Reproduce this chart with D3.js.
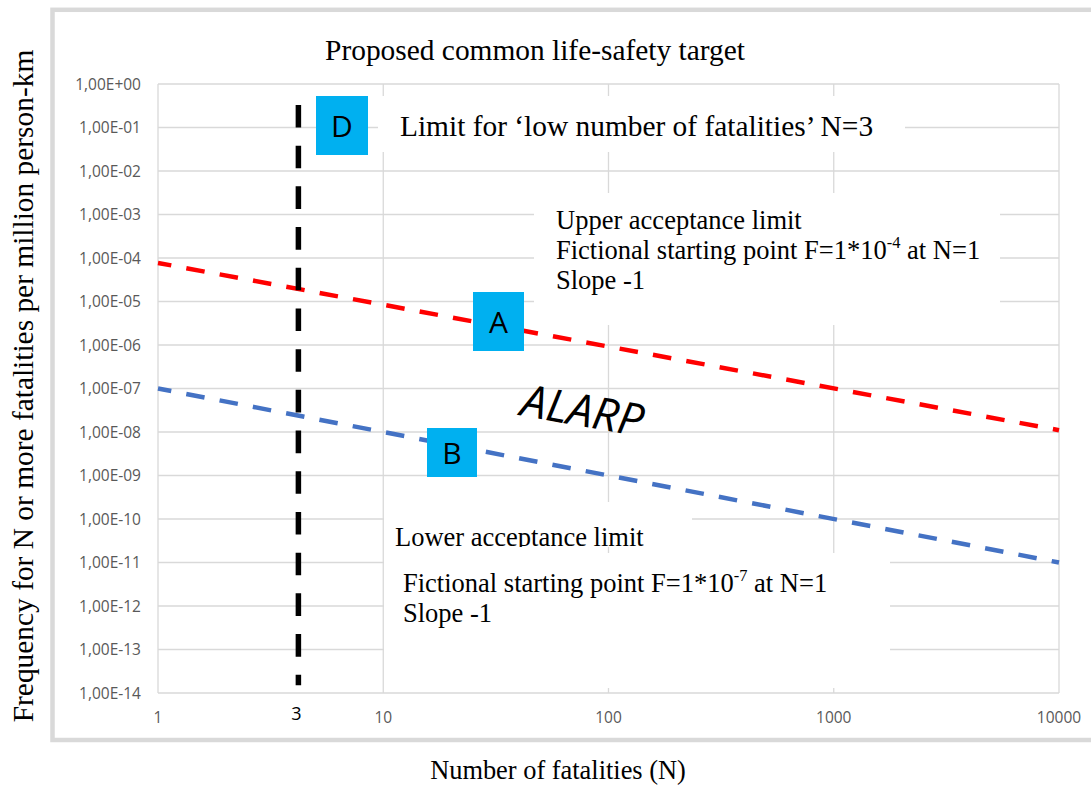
<!DOCTYPE html>
<html><head><meta charset="utf-8">
<script src="https://cdn.jsdelivr.net/npm/d3@7"></script>
<style>body{margin:0;background:#fff;} svg{display:block;}</style>
</head><body>
<svg id="chart" width="1091" height="785"></svg>
<script>
// ---------- data ----------
const xTicks = [1, 10, 100, 1000, 10000];
const xTickLabels = ["1", "10", "100", "1000", "10000"];
const yTicks = [1, 1e-1, 1e-2, 1e-3, 1e-4, 1e-5, 1e-6, 1e-7, 1e-8, 1e-9, 1e-10, 1e-11, 1e-12, 1e-13, 1e-14];
const yTickLabels = ["1,00E+00", "1,00E-01", "1,00E-02", "1,00E-03", "1,00E-04", "1,00E-05", "1,00E-06",
  "1,00E-07", "1,00E-08", "1,00E-09", "1,00E-10", "1,00E-11", "1,00E-12", "1,00E-13", "1,00E-14"];
const upperLimitN = [1, 10000];
const upperLimitF = [7.7e-5, 1.1e-8];
const lowerLimitN = [1, 10000];
const lowerLimitF = [1e-7, 1e-11];
const markerN = [4.2, 4.2];
const markerF = [0.33, 1.5e-14];
const markerLabel = "3";

const titleText = "Proposed common life-safety target";
const yTitle = "Frequency for N or more fatalities per million person-km";
const xTitle = "Number of fatalities (N)";

// ---------- layout ----------
const svg = d3.select("#chart");
const x = d3.scaleLog().domain([1, 10000]).range([158, 1059]);
const y = d3.scaleLog().domain([1e-14, 1]).range([693, 84]);
const serif = "'Liberation Serif','Times New Roman',serif";
const sans = "'Open Sans','Liberation Sans',sans-serif";
const gridColor = "#d9d9d9";

// outer frame
svg.append("rect").attr("x", 52.5).attr("y", 9.8).attr("width", 1100).attr("height", 730.2)
  .attr("fill", "none").attr("stroke", "#d9d9d9").attr("stroke-width", 4.5);

// grid
const g = svg.append("g");
g.selectAll("line.h").data(yTicks).join("line")
  .attr("x1", x(1)).attr("x2", x(10000))
  .attr("y1", d => y(d)).attr("y2", d => y(d))
  .attr("stroke", gridColor).attr("stroke-width", 1.3);
g.selectAll("line.v").data(xTicks).join("line")
  .attr("y1", y(1)).attr("y2", y(1e-14))
  .attr("x1", d => x(d)).attr("x2", d => x(d))
  .attr("stroke", gridColor).attr("stroke-width", 1.3);

// tick labels
svg.append("g").selectAll("text").data(yTicks).join("text")
  .attr("x", 141).attr("y", d => y(d) + 5.5)
  .attr("text-anchor", "end").attr("font-family", sans).attr("font-size", 15.5)
  .attr("fill", "#595959").text((d, i) => yTickLabels[i]);
svg.append("g").selectAll("text").data(xTicks).join("text")
  .attr("x", d => x(d)).attr("y", 723)
  .attr("text-anchor", "middle").attr("font-family", sans).attr("font-size", 15.5)
  .attr("fill", "#595959").text((d, i) => xTickLabels[i]);

// lines
const line = d3.line().x(d => x(d[0])).y(d => y(d[1]));
svg.append("path").datum(upperLimitN.map((n, i) => [n, upperLimitF[i]]))
  .attr("d", line).attr("fill", "none").attr("stroke", "#ff0000").attr("stroke-width", 4.5)
  .attr("stroke-dasharray", "18.6 15.3").attr("stroke-dashoffset", 5.1);
svg.append("path").datum(lowerLimitN.map((n, i) => [n, lowerLimitF[i]]))
  .attr("d", line).attr("fill", "none").attr("stroke", "#4472c4").attr("stroke-width", 4.5)
  .attr("stroke-dasharray", "18.6 15.3").attr("stroke-dashoffset", 5.1);
svg.append("path").datum(markerN.map((n, i) => [n, markerF[i]]))
  .attr("d", line).attr("fill", "none").attr("stroke", "#000").attr("stroke-width", 5.5)
  .attr("stroke-dasharray", "22.6 18.1");
svg.append("text").attr("x", x(markerN[0]) - 2).attr("y", 720)
  .attr("text-anchor", "middle").attr("font-family", sans).attr("font-size", 18)
  .attr("fill", "#000").text(markerLabel);

// white text boxes
const boxes = [[378, 96, 527, 56], [534, 193, 466, 132], [384, 502, 308, 45], [384, 553, 506, 135]];
svg.append("g").selectAll("rect").data(boxes).join("rect")
  .attr("x", d => d[0]).attr("y", d => d[1]).attr("width", d => d[2]).attr("height", d => d[3])
  .attr("fill", "#fff");

// titles
svg.append("text").attr("x", 535).attr("y", 60).attr("text-anchor", "middle")
  .attr("font-family", serif).attr("font-size", 29.4).attr("fill", "#000").text(titleText);
svg.append("text").attr("transform", "translate(33,386) rotate(-90)").attr("text-anchor", "middle")
  .attr("font-family", serif).attr("font-size", 29.4).attr("fill", "#000").text(yTitle);
svg.append("text").attr("x", 558).attr("y", 779).attr("text-anchor", "middle")
  .attr("font-family", serif).attr("font-size", 26.4).attr("fill", "#000").text(xTitle);

// annotation texts
svg.append("text").attr("x", 400).attr("y", 136).attr("font-family", serif).attr("font-size", 29.4)
  .attr("fill", "#000").text("Limit for \u2018low number of fatalities\u2019 N=3");

function block(x0, lines, exp, fs) {
  const t = svg.append("g");
  lines.forEach((ln, i) => {
    const tx = t.append("text").attr("x", x0).attr("y", ln.y).attr("font-family", serif)
      .attr("font-size", fs).attr("fill", "#000");
    if (ln.sup) {
      tx.append("tspan").text(ln.pre);
      tx.append("tspan").attr("font-size", fs * 0.62).attr("dy", -11).text(exp);
      tx.append("tspan").attr("dy", 11).text(ln.post);
    } else tx.text(ln.text);
  });
}
block(556, [
  {y: 229, text: "Upper acceptance limit"},
  {y: 259, sup: true, pre: "Fictional starting point F=1*10", post: " at N=1"},
  {y: 289, text: "Slope -1"}], "-4", 26.5);

// lower acceptance label clipped by its box
svg.append("clipPath").attr("id", "clipLow").append("rect")
  .attr("x", 384).attr("y", 502).attr("width", 308).attr("height", 45);
svg.append("text").attr("x", 395).attr("y", 546).attr("clip-path", "url(#clipLow)")
  .attr("font-family", serif).attr("font-size", 26.5).attr("fill", "#000").text("Lower acceptance limit");
block(403, [
  {y: 592, sup: true, pre: "Fictional starting point F=1*10", post: " at N=1"},
  {y: 622, text: "Slope -1"}], "-7", 26.5);

// zone boxes
const zoneBoxes = [["D", 316, 96, 52, 59], ["A", 473, 292, 51, 59], ["B", 427, 428, 50, 49]];
const zb = svg.append("g").selectAll("g").data(zoneBoxes).join("g");
zb.append("rect").attr("x", d => d[1]).attr("y", d => d[2]).attr("width", d => d[3]).attr("height", d => d[4])
  .attr("fill", "#00b0f0");
zb.append("text").attr("x", d => d[1] + d[3] / 2).attr("y", d => d[2] + d[4] / 2 + 11)
  .attr("text-anchor", "middle").attr("font-family", sans).attr("font-size", 30)
  .attr("fill", "#000").text(d => d[0]);

// ALARP
svg.append("text").attr("transform", "translate(580,426) rotate(10)").attr("text-anchor", "middle")
  .attr("font-family", sans).attr("font-style", "italic").attr("font-size", 45)
  .attr("fill", "#000").text("ALARP");
</script>
</body></html>
